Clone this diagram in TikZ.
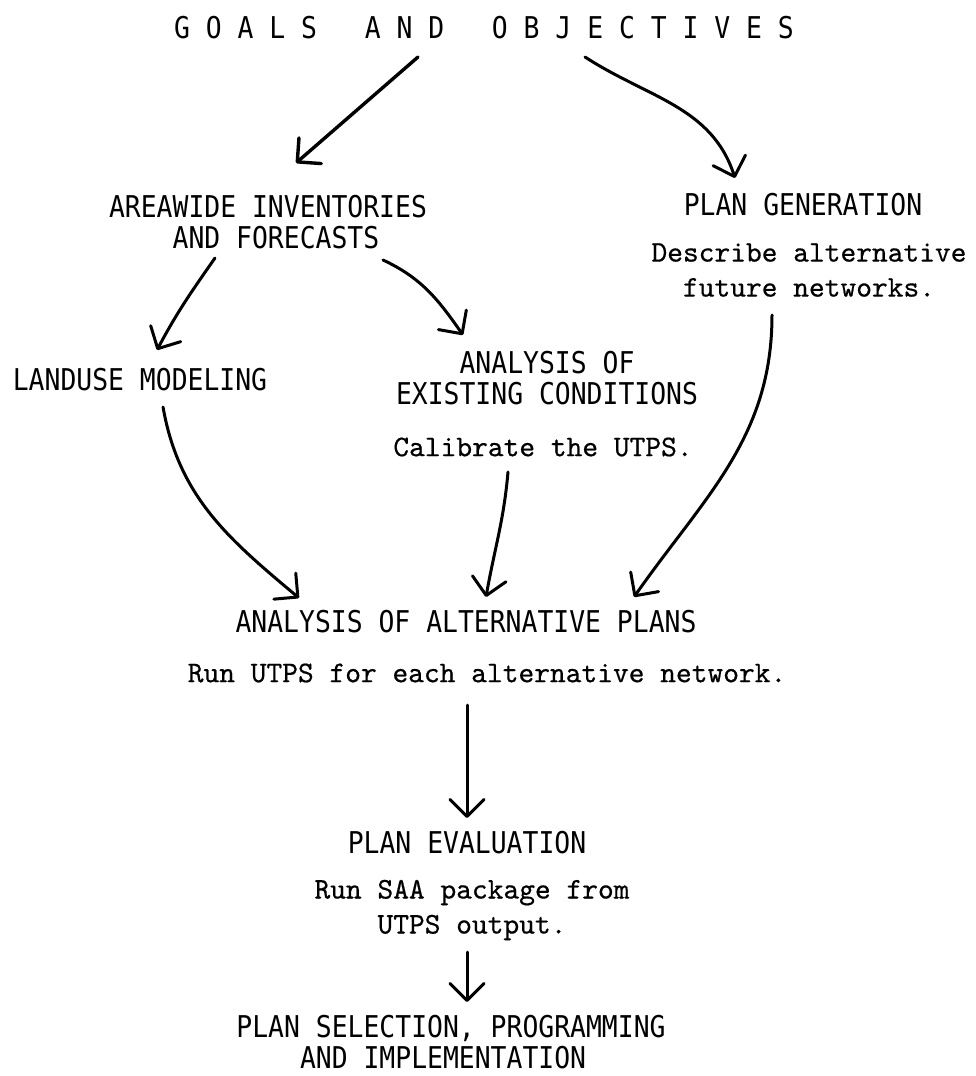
\documentclass[tikz,border=0pt]{standalone}
\usepackage{fontspec}
\usetikzlibrary{arrows.meta,calc}
\newfontfamily\headfont[FakeStretch=0.88]{DejaVu Sans Mono}
\newfontfamily\descfont[FakeBold=0.5]{lmmono10-regular.otf}

\tikzset{
  headtext/.style={font=\headfont\fontsize{30}{31}\selectfont, inner sep=0pt, align=center},
  desctext/.style={font=\descfont\fontsize{30}{35}\selectfont, inner sep=0pt, align=center},
  flowarrow/.style={line width=3pt, line cap=round, line join=round,
    -{Straight Barb[length=17pt,width=34pt,round]}},
}

\begin{document}
\begin{tikzpicture}[x=1pt,y=1pt]
    % page
    \useasboundingbox[fill=white] (0,0) rectangle (975,-1076);

    % Headings and notes
    \node[headtext] (goals) at (484,-28) {G O A L S~~~A N D~~~O B J E C T I V E S};
    \node[headtext, align=left] (areawide) at (268,-222) {AREAWIDE INVENTORIES\\\hphantom{AAAA}AND FORECASTS};
    \node[headtext] (plangen) at (803,-205) {PLAN GENERATION};
    \node[desctext] (describe) at (809,-270) {Describe alternative\\future networks.};
    \node[headtext] (landuse) at (140,-380) {LANDUSE MODELING};
    \node[headtext] (existing) at (547,-378) {ANALYSIS OF\\EXISTING CONDITIONS};
    \node[desctext] (calibrate) at (543,-447) {Calibrate the UTPS.};
    \node[headtext] (altplans) at (466,-622) {ANALYSIS OF ALTERNATIVE PLANS};
    \node[desctext] (runutps) at (487,-673) {Run UTPS for each alternative network.};
    \node[headtext] (planeval) at (467,-843) {PLAN EVALUATION};
    \node[desctext] (runsaa) at (472,-910) {Run SAA package from\\UTPS output.};
    \node[headtext, align=left] (planselect) at (451,-1042) {PLAN SELECTION, PROGRAMMING\\\hphantom{AAAA}AND IMPLEMENTATION};

    % Arrows
    \draw[flowarrow, line width=3.4pt] ($(goals)+(-66,-29)$) -- ($(areawide)+(28,59)$);
    \draw[flowarrow] ($(goals)+(101,-29)$) to[out=-33,in=108] ($(plangen)+(-68,27)$);
    \draw[flowarrow] ($(areawide)+(-53,-36)$) to[out=-125,in=62] ($(landuse)+(17,30)$);
    \draw[flowarrow] ($(areawide)+(115,-38)$) to[out=-25,in=125] ($(existing)+(-84,43)$);
    \draw[flowarrow] ($(landuse)+(23,-27)$) to[out=-80,in=140] ($(altplans)+(-167,24)$);
    \draw[flowarrow] ($(calibrate)+(-35,-25)$) to[out=-95,in=80] ($(altplans)+(20,25)$);
    \draw[flowarrow] ($(describe)+(-37,-45)$) to[out=-90,in=55] ($(altplans)+(168,25)$);
    \draw[flowarrow] ($(runutps)+(-20,-32)$) -- ($(planeval)+(0,25)$);
    \draw[flowarrow] ($(runsaa)+(-5,-42)$) -- ($(planselect)+(16,40)$);
\end{tikzpicture}
\end{document}
